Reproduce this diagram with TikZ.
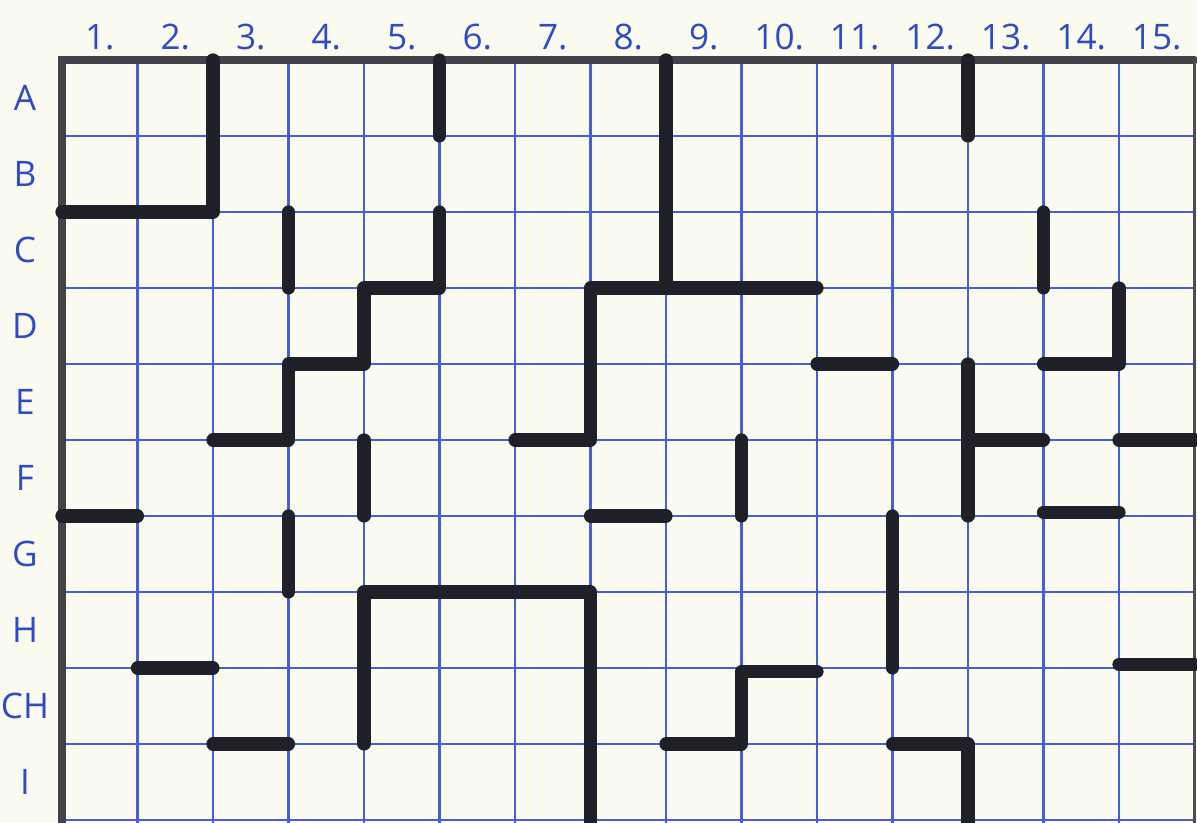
\documentclass[tikz,border=0pt]{standalone}
\usepackage{fontspec}
\setmainfont{Open Sans}
\usepackage{tikz}
\definecolor{paper}{RGB}{250,250,240}
\definecolor{gridblue}{RGB}{70,95,210}
\definecolor{inkblue}{RGB}{45,75,195}
\definecolor{inkblack}{RGB}{32,32,40}
\usetikzlibrary{positioning}

\begin{document}
\begin{tikzpicture}[
  x=1.51cm, y=-1.52cm,
  gridline/.style={gridblue, line width=1.5pt},
  frame/.style={inkblack!85, line width=4.5pt, line cap=round},
  wall/.style={inkblack, line width=7.5pt, line cap=round, line join=round},
  lbl/.style={text=inkblue, font=\fontsize{20}{22}\selectfont, inner sep=1pt}
]
  % page and margins
  \useasboundingbox[fill=paper] (-0.821,-0.789) rectangle (15.033,10.039);

  % squared paper
  \foreach \i in {1,...,14}
    \draw[gridline] (\i,0) -- (\i,10.04);
  \foreach \j in {1,...,10}
    \draw[gridline] (0,\j) -- (15,\j);
  \draw[frame] (0,10.04) -- (0,0) -- (15,0);
  \draw[inkblack!80, line width=1.5pt] (15,0) -- (15,10.04);

  % column and row labels
  \foreach \i in {1,...,15}
    \node[lbl] (col\i) at (\i-0.5,-0.3) {\i.};
  \foreach \r/\t [count=\k from 0] in {rA/A,rB/B,rC/C,rD/D,rE/E,rF/F,rG/G,rH/H,rCH/CH,rI/I}
    \node[lbl] (\r) at (-0.49,\k+0.5) {\t};

  % walls of the maze
  \draw[wall] (0,2) -- (2,2) -- (2,0);
  \draw[wall] (5,0) -- (5,1);
  \draw[wall] (8,0) -- (8,3);
  \draw[wall] (12,0) -- (12,1);
  \draw[wall] (3,2) -- (3,3);
  \draw[wall] (5,2) -- (5,3) -- (4,3) -- (4,4) -- (3,4) -- (3,5) -- (2,5);
  \draw[wall] (6,5) -- (7,5) -- (7,3) -- (10,3);
  \draw[wall] (13,2) -- (13,3);
  \draw[wall] (14,3) -- (14,4) -- (13,4);
  \draw[wall] (10,4) -- (11,4);
  \draw[wall] (12,4) -- (12,6);
  \draw[wall] (12,5) -- (13,5);
  \draw[wall] (14,5) -- (15,5);
  \draw[wall] (4,5) -- (4,6);
  \draw[wall] (9,5) -- (9,6);
  \draw[wall] (0,6) -- (1,6);
  \draw[wall] (7,6) -- (8,6);
  \draw[wall] (13,5.95) -- (14,5.95);
  \draw[wall] (3,6) -- (3,7);
  \draw[wall] (11,6) -- (11,8);
  \draw[wall] (4,9) -- (4,7) -- (7,7) -- (7,10.04);
  \draw[wall] (1,8) -- (2,8);
  \draw[wall] (14,7.95) -- (15,7.95);
  \draw[wall] (10,8.05) -- (9,8.05) -- (9,9) -- (8,9);
  \draw[wall] (2,9) -- (3,9);
  \draw[wall] (11,9) -- (12,9) -- (12,10.04);
\end{tikzpicture}
\end{document}
